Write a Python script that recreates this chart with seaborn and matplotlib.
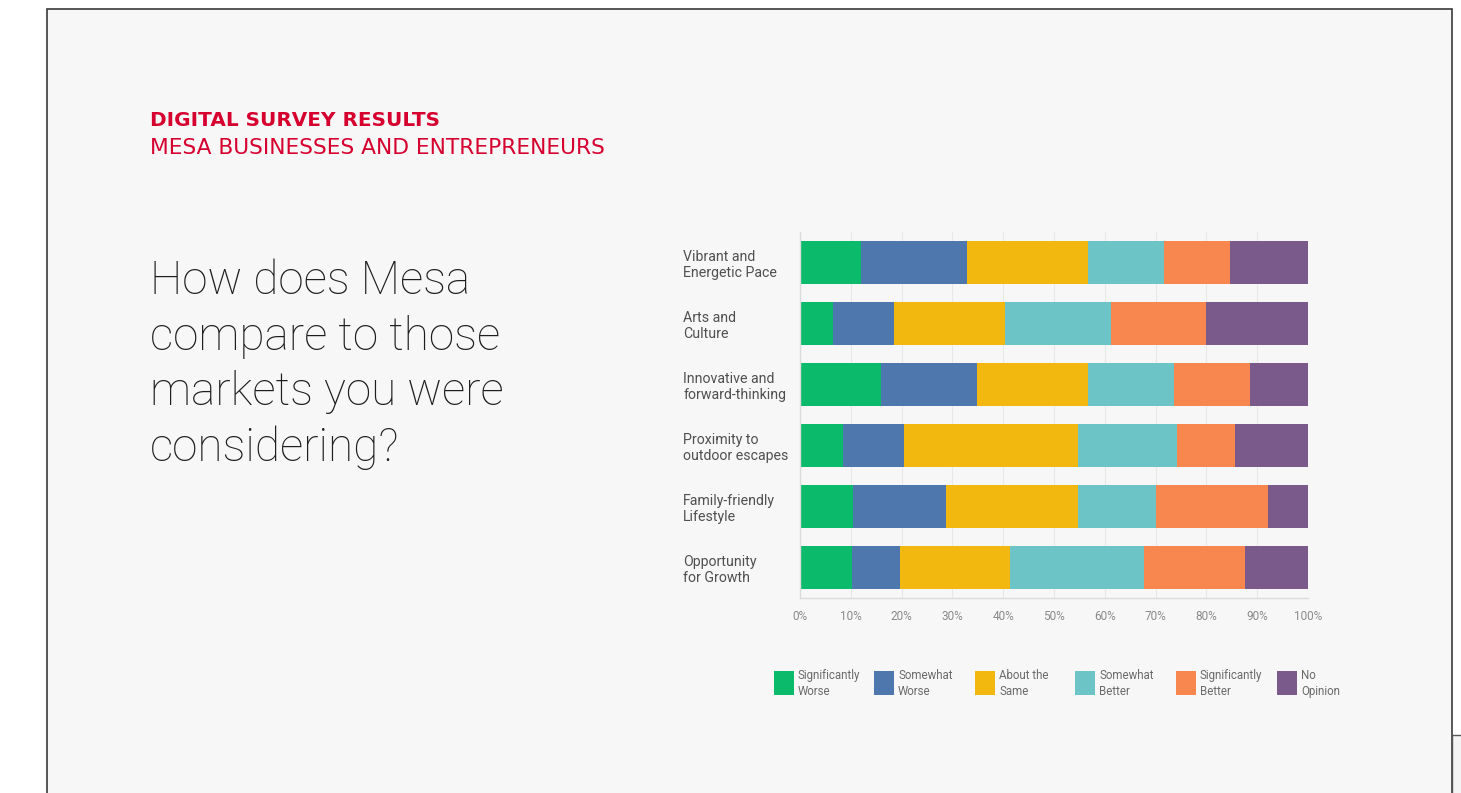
import matplotlib
matplotlib.use("Agg")
import matplotlib.pyplot as plt
from matplotlib.patches import Rectangle
import seaborn as sns
import pandas as pd
import numpy as np

# ---------------- data ----------------
categories = ["Vibrant and\nEnergetic Pace", "Arts and\nCulture", "Innovative and\nforward-thinking",
              "Proximity to\noutdoor escapes", "Family-friendly\nLifestyle", "Opportunity\nfor Growth"]
series_names = ["Significantly\nWorse", "Somewhat\nWorse", "About the\nSame",
                "Somewhat\nBetter", "Significantly\nBetter", "No\nOpinion"]
sig_worse = [12.1, 6.5, 15.9, 8.4, 10.5, 10.3]
some_worse = [20.7, 12.1, 18.9, 12.1, 18.2, 9.3]
same = [23.8, 21.8, 21.8, 34.2, 26.0, 21.8]
some_better = [15.0, 20.8, 17.0, 19.6, 15.3, 26.3]
sig_better = [13.1, 18.8, 15.0, 11.4, 22.2, 19.9]
no_opinion = [15.3, 20.0, 11.4, 14.3, 7.8, 12.4]
tick_labels = ["0%", "10%", "20%", "30%", "40%", "50%", "60%", "70%", "80%", "90%", "100%"]

colors = ["#0cba6c", "#4e77ae", "#f3b80f", "#6cc4c6", "#f8874f", "#7a5a8b"]

series = [sig_worse, some_worse, same, some_better, sig_better, no_opinion]
rows = []
for name, vals in zip(series_names, series):
    for c, v in zip(categories, vals):
        rows.append({"category": c, "series": name, "value": v})
df = pd.DataFrame(rows)
df["cum"] = df.groupby("category", sort=False)["value"].cumsum()

# ---------------- figure ----------------
W, H = 1461, 793
sns.set_theme(style="white")
plt.rcParams["font.family"] = ["Roboto", "DejaVu Sans"]
fig = plt.figure(figsize=(W / 100, H / 100), dpi=100)
fig.patch.set_facecolor("white")

def fx(px):
    return px / W

def fy(py):
    return 1 - py / H

# slide frame
fig.patches.append(Rectangle((fx(47), fy(820)), fx(1452) - fx(47), fy(9) - fy(820),
                             transform=fig.transFigure, facecolor="#f7f7f7",
                             edgecolor="#3a3a3a", lw=1.2, zorder=-10))
fig.patches.append(Rectangle((fx(1452), fy(820)), fx(1470) - fx(1452), fy(735) - fy(820),
                             transform=fig.transFigure, facecolor="#f4f4f4",
                             edgecolor="#555555", lw=1.0, zorder=-10))

renderer = fig.canvas.get_renderer()

def fitted_text(x, y, s, target_w, size, **kw):
    t = fig.text(fx(x), fy(y), s, fontsize=size, **kw)
    w = t.get_window_extent(renderer=renderer).width
    t.set_fontsize(size * target_w / w)
    return t

# headings
red = "#d6002f"
fitted_text(150, 121, "DIGITAL SURVEY RESULTS", 290, 14, color=red,
            fontweight="bold", ha="left", va="center", family=["DejaVu Sans"])
fitted_text(150, 148, "MESA BUSINESSES AND ENTREPRENEURS", 455, 14, color=red,
            ha="left", va="center", family=["DejaVu Sans"])
fig.text(fx(150), fy(259), "How does Mesa\ncompare to those\nmarkets you were\nconsidering?",
         color="#1e1e1e", fontsize=33, fontweight="light", ha="left", va="top",
         linespacing=1.33)

# ---------------- chart ----------------
ax = fig.add_axes([fx(800), fy(598), fx(1308) - fx(800), fy(232) - fy(598)])
ax.set_zorder(1)
ax.set_facecolor("#f7f7f7")
for name, col in reversed(list(zip(series_names, colors))):
    sub = df[df["series"] == name]
    sns.barplot(data=sub, x="cum", y="category", order=categories, orient="h",
                color=col, width=0.69, ax=ax, saturation=1, edgecolor="none", zorder=2)

ax.set_xlim(0, 100)
ax.set_ylim(5.5, -0.5)
ax.set_xticks(np.arange(0, 101, 10))
ax.set_xticklabels(tick_labels)
ax.set_xlabel("")
ax.set_ylabel("")
ax.grid(axis="x", color="#e8e8e8", lw=0.8, zorder=0)
ax.grid(axis="y", visible=False)
ax.set_axisbelow(True)
for s in ["top", "right"]:
    ax.spines[s].set_visible(False)
for s in ["left", "bottom"]:
    ax.spines[s].set_color("#dcdcdc")
    ax.spines[s].set_linewidth(1.0)
ax.tick_params(axis="x", length=0, pad=9, labelsize=8.5, labelcolor="#8a8a8a")
ax.tick_params(axis="y", length=0, pad=84, labelsize=10.2, labelcolor="#505050")
for lbl in ax.get_yticklabels():
    lbl.set_ha("left")
    lbl.set_linespacing(1.2)

# ---------------- legend ----------------
leg_x = [774, 874, 975, 1075, 1176, 1277]
for x0, name, col in zip(leg_x, series_names, colors):
    fig.patches.append(Rectangle((fx(x0), fy(695)), fx(20), fy(671) - fy(695),
                                 transform=fig.transFigure, facecolor=col,
                                 edgecolor="none", zorder=3))
    fig.text(fx(x0 + 24), fy(683.5), name, fontsize=8.3, color="#6a6a6a",
             ha="left", va="center", linespacing=1.37)

fig.savefig("out.png", dpi=100, facecolor=fig.get_facecolor())
